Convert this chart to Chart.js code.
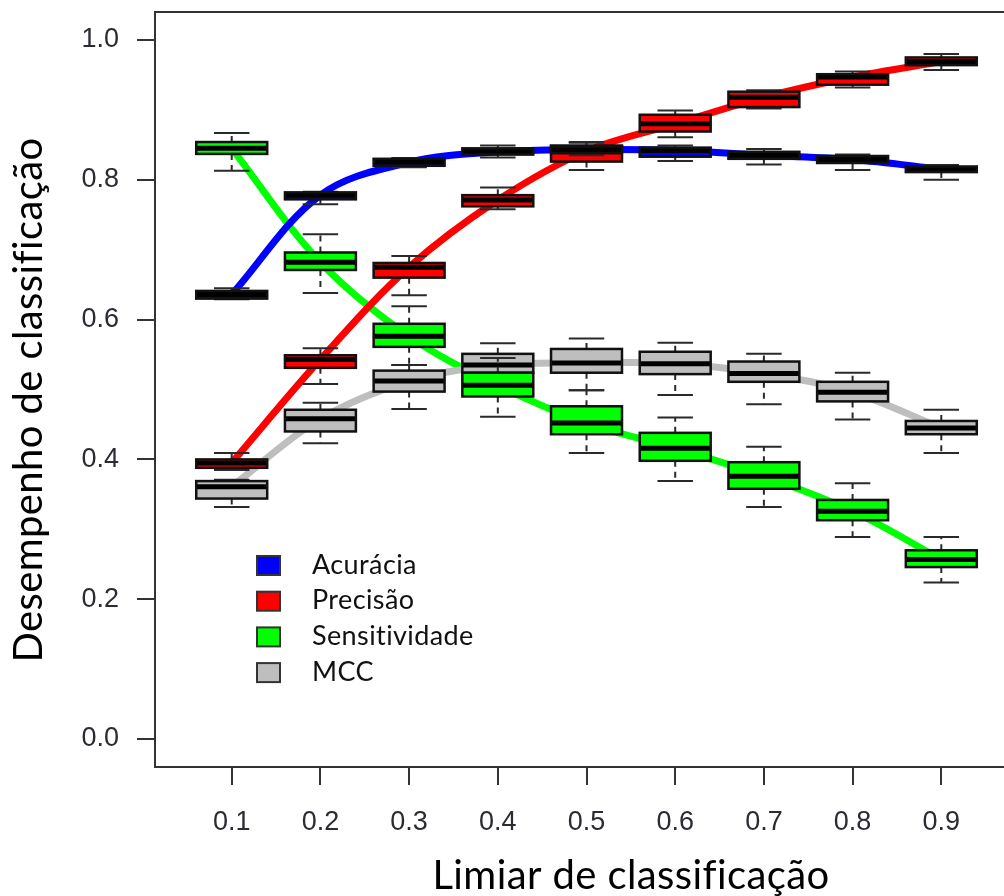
<!DOCTYPE html>
<html>
<head>
<meta charset="utf-8">
<script src="https://cdn.jsdelivr.net/npm/chart.js@4.4.1/dist/chart.umd.min.js"></script>
<style>
  html, body { margin: 0; padding: 0; background: #fff; overflow: hidden; }
  canvas { display: block; }
</style>
</head>
<body>
<canvas id="boxChart" width="1004" height="896"></canvas>
<script>
// limiar (categorias do eixo x) e marcas do eixo y
const thresholds = ['0.1', '0.2', '0.3', '0.4', '0.5', '0.6', '0.7', '0.8', '0.9'];
const yTicks = [0, 0.2, 0.4, 0.6, 0.8, 1.0];

const seriesNames = ['Acurácia', 'Precisão', 'Sensitividade', 'MCC'];
const seriesColors = ['#0000ff', '#ff0000', '#00ff00', '#bebebe'];

// cada caixa: [bigode inf, Q1, mediana, Q3, bigode sup]
const acuracia = [
  [0.629, 0.630, 0.636, 0.641, 0.645],
  [0.765, 0.772, 0.778, 0.782, 0.783],
  [0.818, 0.820, 0.825, 0.830, 0.831],
  [0.832, 0.836, 0.840, 0.845, 0.849],
  [0.835, 0.838, 0.843, 0.848, 0.854],
  [0.827, 0.833, 0.842, 0.846, 0.849],
  [0.822, 0.830, 0.835, 0.840, 0.844],
  [0.814, 0.824, 0.829, 0.834, 0.836],
  [0.800, 0.811, 0.815, 0.819, 0.821]
];
const precisao = [
  [0.385, 0.388, 0.395, 0.400, 0.409],
  [0.508, 0.531, 0.543, 0.549, 0.559],
  [0.635, 0.660, 0.675, 0.681, 0.691],
  [0.758, 0.762, 0.771, 0.778, 0.789],
  [0.814, 0.826, 0.841, 0.849, 0.853],
  [0.861, 0.869, 0.880, 0.893, 0.899],
  [0.902, 0.904, 0.918, 0.926, 0.928],
  [0.932, 0.936, 0.947, 0.951, 0.955],
  [0.957, 0.964, 0.969, 0.975, 0.980]
];
const sensitividade = [
  [0.813, 0.837, 0.845, 0.854, 0.867],
  [0.638, 0.671, 0.682, 0.696, 0.722],
  [0.535, 0.561, 0.576, 0.594, 0.619],
  [0.461, 0.490, 0.506, 0.524, 0.545],
  [0.409, 0.436, 0.452, 0.476, 0.499],
  [0.369, 0.398, 0.416, 0.438, 0.460],
  [0.332, 0.358, 0.376, 0.396, 0.418],
  [0.289, 0.313, 0.326, 0.342, 0.366],
  [0.224, 0.246, 0.257, 0.270, 0.289]
];
const mcc = [
  [0.332, 0.344, 0.361, 0.369, 0.371],
  [0.423, 0.440, 0.458, 0.471, 0.481],
  [0.472, 0.497, 0.512, 0.527, 0.535],
  [0.492, 0.524, 0.535, 0.551, 0.566],
  [0.499, 0.524, 0.538, 0.558, 0.573],
  [0.492, 0.522, 0.537, 0.554, 0.567],
  [0.479, 0.511, 0.523, 0.540, 0.551],
  [0.457, 0.483, 0.496, 0.511, 0.524],
  [0.409, 0.436, 0.445, 0.455, 0.471]
];

const seriesStats = [acuracia, precisao, sensitividade, mcc];
// ordem em que as caixas são desenhadas (a última fica por cima)
const boxOrder = [1, 0, 3, 2];

const medianPoints = stats => stats.map((s, i) => ({ x: i + 1, y: s[2] }));

const boxPlugin = {
  id: 'boxes',
  afterDatasetsDraw(chart) {
    const { ctx, chartArea, scales: { x, y } } = chart;
    const halfBox = x.getPixelForValue(1.4) - x.getPixelForValue(1);
    const halfCap = halfBox / 2;
    ctx.save();
    ctx.beginPath();
    ctx.rect(chartArea.left, chartArea.top, chartArea.right - chartArea.left, chartArea.bottom - chartArea.top);
    ctx.clip();
    boxOrder.forEach(si => {
      seriesStats[si].forEach((s, i) => {
        const cx = x.getPixelForValue(i + 1);
        const [lo, q1, med, q3, hi] = s.map(v => y.getPixelForValue(v));
        // caixa
        ctx.fillStyle = seriesColors[si];
        ctx.fillRect(cx - halfBox, q3, halfBox * 2, q1 - q3);
        // mediana
        ctx.strokeStyle = '#000';
        ctx.lineWidth = 5;
        ctx.beginPath();
        ctx.moveTo(cx - halfBox, med);
        ctx.lineTo(cx + halfBox, med);
        ctx.stroke();
        // bigodes tracejados
        ctx.strokeStyle = '#2a2a2a';
        ctx.lineWidth = 2;
        ctx.setLineDash([6, 5]);
        ctx.beginPath();
        ctx.moveTo(cx, q3); ctx.lineTo(cx, hi);
        ctx.moveTo(cx, q1); ctx.lineTo(cx, lo);
        ctx.stroke();
        ctx.setLineDash([]);
        // extremos
        ctx.beginPath();
        ctx.moveTo(cx - halfCap, hi); ctx.lineTo(cx + halfCap, hi);
        ctx.moveTo(cx - halfCap, lo); ctx.lineTo(cx + halfCap, lo);
        ctx.stroke();
        // contorno
        ctx.strokeStyle = '#111';
        ctx.lineWidth = 2.5;
        ctx.strokeRect(cx - halfBox, q3, halfBox * 2, q1 - q3);
      });
    });
    ctx.restore();
  },
  afterDraw(chart) {
    const { ctx, chartArea } = chart;
    ctx.save();
    // moldura superior
    ctx.strokeStyle = '#333';
    ctx.lineWidth = 2;
    ctx.beginPath();
    ctx.moveTo(chartArea.left, chartArea.top);
    ctx.lineTo(chartArea.right, chartArea.top);
    ctx.stroke();

    // sem ligaduras (fi, ti)
    ctx.letterSpacing = '0.4px';

    // legenda
    ctx.font = '27px Lato';
    ctx.textBaseline = 'middle';
    seriesNames.forEach((name, i) => {
      const top = 556 + i * 35.7;
      ctx.fillStyle = seriesColors[i];
      ctx.fillRect(chartArea.left + 102, top, 23, 19);
      ctx.strokeStyle = '#333';
      ctx.lineWidth = 2;
      ctx.strokeRect(chartArea.left + 102, top, 23, 19);
      ctx.fillStyle = '#111';
      ctx.fillText(name, chartArea.left + 157, top + 9);
    });

    // títulos dos eixos
    ctx.fillStyle = '#000';
    ctx.font = '40px Lato';
    ctx.textAlign = 'center';
    ctx.textBaseline = 'alphabetic';
    ctx.fillText('Limiar de classificação', 631, 889);
    ctx.translate(42, 400);
    ctx.rotate(-Math.PI / 2);
    ctx.fillText('Desempenho de classificação', 0, 0);
    ctx.restore();
  }
};

const ctx = document.getElementById('boxChart').getContext('2d');
const lineOrder = [3, 2, 4, 1];
const boxChart = new Chart(ctx, {
  type: 'line',
  data: {
    datasets: seriesNames.map((name, si) => ({
      label: name,
      data: medianPoints(seriesStats[si]),
      borderColor: seriesColors[si],
      borderWidth: 7,
      tension: 0.35,
      pointRadius: 0,
      fill: false,
      order: lineOrder[si]
    }))
  },
  options: {
    responsive: false,
    animation: false,
    layout: { padding: { top: 12, right: 0, left: 0, bottom: 0 } },
    plugins: { legend: { display: false }, tooltip: { enabled: false } },
    scales: {
      x: {
        type: 'linear',
        min: 0.135,
        max: 9.707,
        bounds: 'data',
        afterBuildTicks: scale => { scale.ticks = thresholds.map((t, i) => ({ value: i + 1 })); },
        afterFit: scale => { scale.height = 896 - 767; scale.paddingLeft = 0; scale.paddingRight = 0; },
        ticks: {
          callback: (v, i) => thresholds[i],
          font: { family: 'Liberation Sans', size: 27 },
          color: '#2b2b33',
          padding: 21,
          maxRotation: 0,
          autoSkip: false
        },
        grid: { drawOnChartArea: false, drawTicks: true, tickLength: 18, tickColor: '#333', lineWidth: 2 },
        border: { display: true, color: '#333', width: 2 }
      },
      y: {
        type: 'linear',
        min: -0.04,
        max: 1.04,
        bounds: 'data',
        afterBuildTicks: scale => { scale.ticks = yTicks.map(v => ({ value: v })); },
        afterFit: scale => { scale.width = 155; scale.paddingTop = 0; scale.paddingBottom = 0; },
        ticks: {
          callback: v => v.toFixed(1),
          font: { family: 'Liberation Sans', size: 27 },
          color: '#2b2b33',
          padding: 18
        },
        grid: { drawOnChartArea: false, drawTicks: true, tickLength: 18, tickColor: '#333', lineWidth: 2 },
        border: { display: true, color: '#333', width: 2 }
      }
    }
  },
  plugins: [boxPlugin]
});
</script>
</body>
</html>
